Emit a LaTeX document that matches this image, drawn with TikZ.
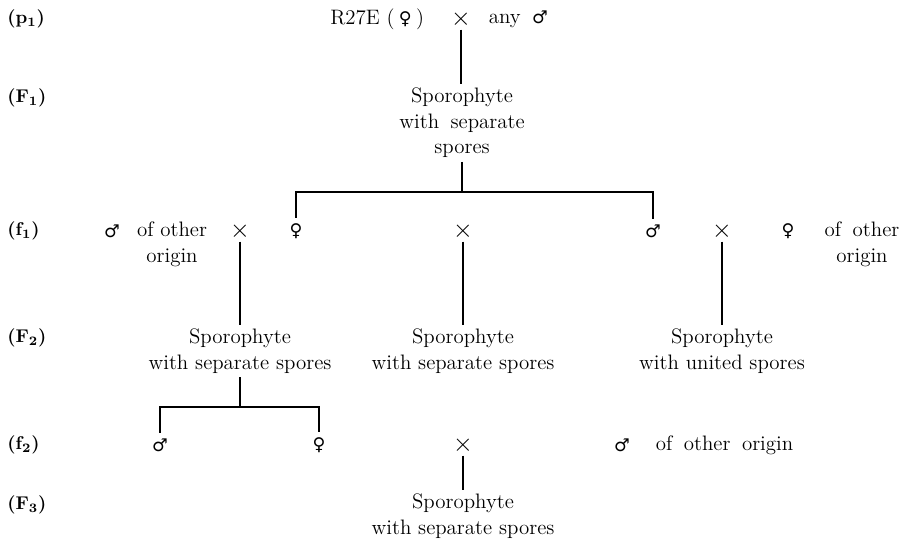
\documentclass[tikz,border=0pt]{standalone}
\usepackage{fontspec}
\newfontfamily\symfont{DejaVu Sans}
\newcommand{\Fsym}{{\fontsize{10}{12}\selectfont\symfont ♀}}
\newcommand{\Msym}{{\fontsize{10}{12}\selectfont\symfont ♂}}
\newcommand{\wsp}{\hspace{0.55em}}
\tikzset{
  txt/.style={align=center, inner sep=2pt, font=\fontsize{11.9}{14.6}\selectfont},
  gen/.style={anchor=west, inner sep=0pt, font=\fontsize{10.5}{12}\selectfont\bfseries},
  sex/.style={inner sep=3pt, font=\fontsize{10}{12}\selectfont\symfont},
  cross/.style={inner sep=1pt, font=\fontsize{15}{15}\selectfont},
  link/.style={draw=black, line width=0.8pt},
}

\begin{document}
\begin{tikzpicture}[x=0.02cm, y=-0.02cm]
\useasboundingbox (0,0) rectangle (911,543);
% generation labels
\node[gen] at (7,19)  (lp1) {(p\textsubscript{1})};
\node[gen] at (7,98)  (lF1) {(F\textsubscript{1})};
\node[gen] at (7,231) (lf1) {(f\textsubscript{1})};
\node[gen] at (7,338) (lF2) {(F\textsubscript{2})};
\node[gen] at (7,445) (lf2) {(f\textsubscript{2})};
\node[gen] at (7,505) (lF3) {(F\textsubscript{3})};
% parents
\node[cross] at (461,19) (x0) {$\times$};
\node[txt, anchor=east] at (428,19) (mum0) {R27E\ (\hspace{2.5pt}\Fsym\hspace{2.5pt})};
\node[txt, anchor=west] at (485,19) (dad0) {any\wsp\Msym};
% F1
\node[txt] at (462,123) (sp1) {Sporophyte\\with\wsp separate\\spores};
% f1
\node[sex] at (112,231) (m1a) {♂};
\node[txt] at (172,244) (o1a) {of other\\origin};
\node[cross] at (240,231) (x1a) {$\times$};
\node[sex] at (296,231) (f1a) {♀};
\node[cross] at (463,231) (x1b) {$\times$};
\node[sex] at (653,231) (m1b) {♂};
\node[cross] at (722,231) (x1c) {$\times$};
\node[sex] at (788,231) (f1c) {♀};
\node[txt] at (862,244) (o1c) {of\wsp other\\origin};
% F2
\node[txt] at (240,351) (sp2a) {Sporophyte\\with separate spores};
\node[txt] at (463,351) (sp2b) {Sporophyte\\with separate spores};
\node[txt] at (722,351) (sp2c) {Sporophyte\\with united spores};
% f2
\node[sex] at (160,445) (m2a) {♂};
\node[sex] at (319,445) (f2a) {♀};
\node[cross] at (463,445) (x2) {$\times$};
\node[sex] at (622,445) (m2b) {♂};
\node[txt, anchor=west] at (652,445) (o2b) {of\wsp other\wsp origin};
% F3
\node[txt] at (463,516) (sp3) {Sporophyte\\with separate spores};
% brackets
\coordinate (b1) at (462,192);
\coordinate (b2) at (240,407);
% lines
\draw[link] (x0) -- (x0 |- sp1.north);
\draw[link] (sp1) -- (b1);
\draw[link] (f1a) |- (b1) -| (m1b);
\foreach \a/\b in {x1a/sp2a, x1b/sp2b, x1c/sp2c, x2/sp3} \draw[link] (\a) -- (\b);
\draw[link] (sp2a) -- (b2);
\draw[link] (m2a) |- (b2) -| (f2a);
\end{tikzpicture}
\end{document}
